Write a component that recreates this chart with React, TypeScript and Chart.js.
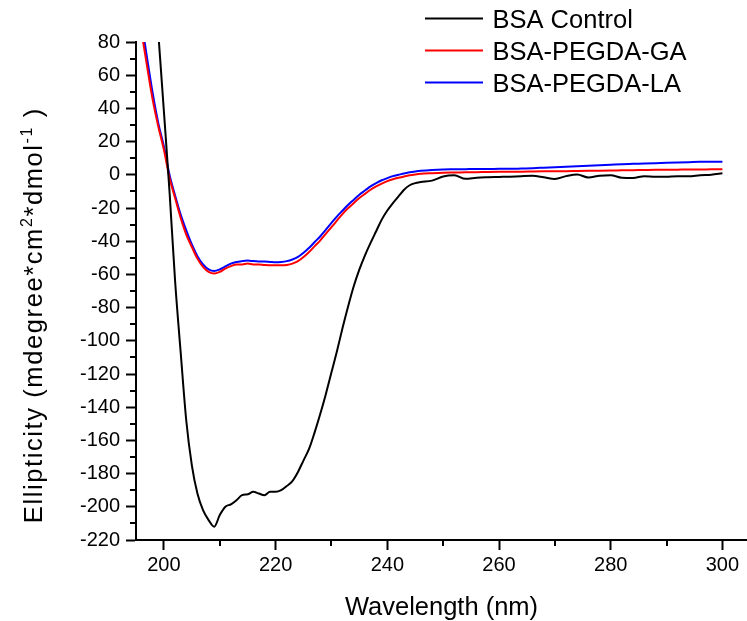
import React, { useEffect, useRef } from 'react';
import { Chart, registerables } from 'chart.js';

Chart.register(...registerables);

const wavelengths = [
  196, 197, 198, 199, 200, 201, 202, 203, 204, 205, 206, 207, 208, 209, 210,
  211, 212, 213, 214, 215, 216, 217, 218, 219, 220, 221, 222, 223, 224, 225,
  226, 227, 228, 229, 230, 231, 232, 233, 234, 235, 236, 237, 238, 239, 240,
  241, 242, 243, 244, 245, 246, 248, 250, 252, 254, 256, 258, 260, 262, 264,
  266, 268, 270, 272, 274, 276, 278, 280, 282, 284, 286, 288, 290, 292, 294,
  296, 298, 300,
];

const bsaControl: (number | null)[] = [
  null, null, null, 85, 38, -10, -64, -107, -148, -175, -192, -202, -208, -212, -205,
  -200, -198.5, -196, -193, -192.5, -191, -192, -193, -191, -191, -190, -187.5, -184.5, -179, -172,
  -165, -155, -144, -132, -119, -106, -92, -79, -67, -57, -48.5, -41, -34, -27, -21.5,
  -17, -13, -9, -6.3, -5, -4.4, -3.5, -1, -0.3, -2.4, -1.8, -1.5, -1.3, -1.1, -0.8,
  -0.6, -1.5, -2.5, -0.8, 0.2, -1.6, -0.6, -0.3, -1.8, -1.9, -0.8, -1.2, -1.1, -0.8, -0.9,
  -0.2, 0.1, 0.9,
];

const bsaPegdaGa: number[] = [
  86, 65, 45, 29, 15, -1.8, -14, -26, -36, -43.5, -50.5, -55.5, -58.5, -59.5, -58.5,
  -56.5, -55, -54, -54, -53.5, -54, -54, -54.3, -54.5, -54.5, -54.5, -54.3, -53.5, -52, -49.5,
  -46.5, -43, -39.5, -35.5, -31.5, -27.5, -23.5, -20, -17, -14, -11.5, -9, -7, -5.3, -3.8,
  -2.7, -1.8, -1, -0.3, 0.2, 0.6, 1, 1.3, 1.4, 1.5, 1.6, 1.7, 1.8, 1.9, 1.9,
  2, 2.1, 2.2, 2.2, 2.3, 2.4, 2.5, 2.6, 2.7, 2.8, 2.9, 3, 3, 3.1, 3.2,
  3.2, 3.3, 3.3,
];

const bsaPegdaLa: number[] = [
  92, 70, 49, 31, 17, 0, -12.5, -24, -33.5, -42, -49, -54, -57, -58, -57,
  -55.2, -53.5, -52.5, -52, -51.7, -52, -52.2, -52.3, -52.5, -52.7, -52.5, -52, -51, -49.5, -47,
  -44, -40.5, -37, -33, -29, -25, -21.5, -18, -15, -12, -9.5, -7, -5, -3.3, -2,
  -0.8, 0, 0.8, 1.5, 2, 2.4, 2.9, 3.2, 3.3, 3.4, 3.5, 3.5, 3.6, 3.6, 3.8,
  4, 4.3, 4.6, 4.9, 5.2, 5.5, 5.8, 6.1, 6.4, 6.6, 6.8, 7, 7.2, 7.4, 7.6,
  7.8, 7.8, 7.8,
];

const seriesLabels = ['BSA Control', 'BSA-PEGDA-GA', 'BSA-PEGDA-LA'];
const seriesColors = ['#000000', '#ff0000', '#0000ff'];
const seriesValues = [bsaControl, bsaPegdaGa, bsaPegdaLa];

const xAxisTitle = 'Wavelength (nm)';
const yAxisTitleParts: { text: string; sup: boolean }[] = [
  { text: 'Ellipticity (mdegree*cm', sup: false },
  { text: '2', sup: true },
  { text: '*dmol', sup: false },
  { text: '-1', sup: true },
  { text: ' )', sup: false },
];

const X_MIN = 195;
const X_MAX = 304.4;
const X_STEP = 20;
const Y_MIN = -220;
const Y_MAX = 80;
const Y_STEP = 20;

const FONT = '"Liberation Sans", Arial, Helvetica, sans-serif';

const decorPlugin = {
  id: 'decor',
  afterDraw(chart: any) {
    const ctx: CanvasRenderingContext2D = chart.ctx;
    const { left, right, bottom } = chart.chartArea;
    ctx.save();

    // minor ticks
    ctx.strokeStyle = '#000';
    ctx.lineWidth = 2;
    ctx.beginPath();
    const xs = chart.scales.x;
    const xt = xs.ticks.map((t: any) => t.value);
    if (xt.length > 1) {
      const st = xt[1] - xt[0];
      for (let v = xt[0] - st / 2; v <= xs.max; v += st) {
        if (v < xs.min) continue;
        const px = Math.round(xs.getPixelForValue(v));
        ctx.moveTo(px, bottom);
        ctx.lineTo(px, bottom + 6);
      }
    }
    const ys = chart.scales.y;
    const yt = ys.ticks.map((t: any) => t.value);
    if (yt.length > 1) {
      const st = yt[1] - yt[0];
      for (let v = yt[0] - st / 2; v <= ys.max; v += st) {
        if (v < ys.min) continue;
        const py = Math.round(ys.getPixelForValue(v));
        ctx.moveTo(left, py);
        ctx.lineTo(left - 6, py);
      }
    }
    ctx.stroke();

    ctx.fillStyle = '#000';
    ctx.textBaseline = 'alphabetic';

    // x title
    ctx.font = `25.5px ${FONT}`;
    ctx.textAlign = 'center';
    ctx.fillText(xAxisTitle, (left + right) / 2, 615);

    // y title (drawn glyph by glyph with a small spacing)
    const mainFont = `25.5px ${FONT}`;
    const supFont = `16px ${FONT}`;
    const spacing = 1.6;
    const glyphs: { ch: string; sup: boolean; w: number }[] = [];
    yAxisTitleParts.forEach((p) => {
      ctx.font = p.sup ? supFont : mainFont;
      for (const ch of p.text) {
        glyphs.push({ ch, sup: p.sup, w: ctx.measureText(ch).width + spacing });
      }
    });
    const total = glyphs.reduce((s, g) => s + g.w, 0) - spacing;
    ctx.save();
    ctx.translate(42, 316);
    ctx.rotate(-Math.PI / 2);
    ctx.textAlign = 'left';
    let cx = -total / 2;
    glyphs.forEach((g) => {
      ctx.font = g.sup ? supFont : mainFont;
      ctx.fillText(g.ch, cx, g.sup ? -10 : 0);
      cx += g.w;
    });
    ctx.restore();

    // legend
    const legendY = [18.5, 50.5, 82.5];
    chart.data.datasets.forEach((ds: any, i: number) => {
      const y = legendY[i];
      ctx.strokeStyle = ds.borderColor;
      ctx.lineWidth = 2;
      ctx.beginPath();
      ctx.moveTo(425, y);
      ctx.lineTo(483, y);
      ctx.stroke();
      ctx.font = `25.5px ${FONT}`;
      ctx.textAlign = 'left';
      ctx.fillStyle = '#000';
      ctx.fillText(ds.label, 492.5, y + 9);
    });

    ctx.restore();
  },
};

export default function App() {
  const canvasRef = useRef<HTMLCanvasElement | null>(null);

  useEffect(() => {
    if (!canvasRef.current) return;
    const datasets = seriesValues.map((vals, si) => ({
      label: seriesLabels[si],
      data: wavelengths
        .map((w, i) => ({ x: w, y: vals[i] }))
        .filter((p) => p.y !== null),
      borderColor: seriesColors[si],
      backgroundColor: seriesColors[si],
      borderWidth: 2,
      pointRadius: 0,
      fill: false,
      cubicInterpolationMode: 'monotone' as const,
    }));

    const chart = new Chart(canvasRef.current, {
      type: 'line',
      data: { datasets },
      options: {
        animation: false,
        responsive: false,
        maintainAspectRatio: false,
        layout: { padding: { top: 42, right: 0, left: 0, bottom: 0 } },
        plugins: {
          legend: { display: false },
          tooltip: { enabled: false },
        },
        scales: {
          x: {
            type: 'linear',
            min: X_MIN,
            max: X_MAX,
            afterFit: (scale: any) => {
              scale.height = 81;
            },
            ticks: {
              stepSize: X_STEP,
              includeBounds: false,
              color: '#000',
              font: { family: FONT, size: 20 },
              padding: 3,
              maxRotation: 0,
            },
            grid: {
              drawOnChartArea: false,
              drawTicks: true,
              tickLength: 10,
              tickWidth: 2,
              tickColor: '#000',
            },
            border: { display: true, color: '#000', width: 2 },
          },
          y: {
            type: 'linear',
            min: Y_MIN,
            max: Y_MAX,
            afterFit: (scale: any) => {
              scale.width = 136;
            },
            ticks: {
              stepSize: Y_STEP,
              color: '#000',
              font: { family: FONT, size: 20 },
              padding: 6,
            },
            grid: {
              drawOnChartArea: false,
              drawTicks: true,
              tickLength: 10,
              tickWidth: 2,
              tickColor: '#000',
            },
            border: { display: true, color: '#000', width: 2 },
          },
        },
      },
      plugins: [decorPlugin],
    });
    return () => chart.destroy();
  }, []);

  return (
    <div style={{ position: 'absolute', left: 0, top: 0, width: 747, height: 621, background: '#fff' }}>
      <canvas ref={canvasRef} width={747} height={621} style={{ display: 'block' }} />
    </div>
  );
}
